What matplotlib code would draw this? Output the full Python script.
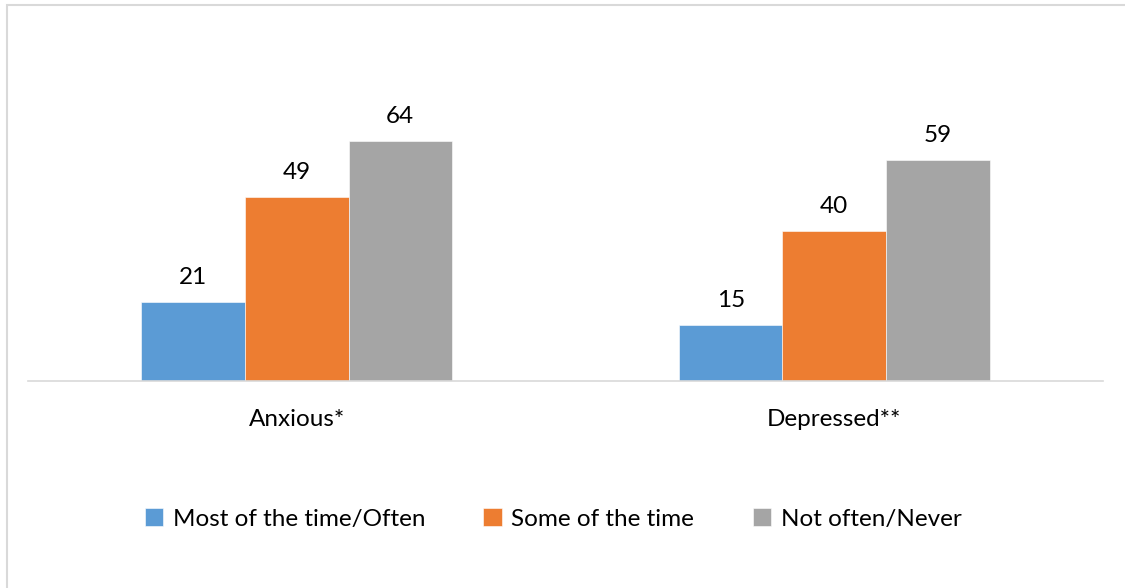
import matplotlib
matplotlib.use("Agg")
import matplotlib.pyplot as plt
import numpy as np
from matplotlib.patches import Rectangle

categories = ["Anxious*", "Depressed**"]
series = ["Most of the time/Often", "Some of the time", "Not often/Never"]
often = [21, 15]
sometimes = [49, 40]
never = [64, 59]

colors = ["#5B9BD5", "#ED7D31", "#A5A5A5"]

plt.rcParams["font.family"] = ["Lato", "DejaVu Sans"]

W, H = 1125, 588
fig = plt.figure(figsize=(W / 100, H / 100), dpi=100)
ax = fig.add_axes([28 / W, (H - 381) / H, (1103 - 28) / W, 262.5 / H])

x = np.arange(len(categories))
width = 0.1926
for k, (vals, color, name) in enumerate(zip([often, sometimes, never], colors, series)):
    bars = ax.bar(x + (k - 1) * width, vals, width, color=color, label=name,
                  edgecolor="white", linewidth=0.4)
    ax.bar_label(bars, padding=10, fontsize=17.5, color="#000000")

ax.set_xlim(-0.5, 1.5)
ax.set_ylim(0, 70)
ax.set_xticks(x)
ax.set_xticklabels(categories, fontsize=17.5)
ax.tick_params(axis="x", length=0, pad=20)
ax.set_yticks([])
for side in ["top", "left", "right"]:
    ax.spines[side].set_visible(False)
ax.spines["bottom"].set_color("#d9d9d9")
ax.spines["bottom"].set_linewidth(1.2)

fig.legend(loc="center", bbox_to_anchor=(553 / W, (H - 519) / H), ncol=3,
           frameon=False, fontsize=17.5, handlelength=0.75, handleheight=0.75,
           handletextpad=0.4, columnspacing=2.4)

fig.patches.append(Rectangle((7 / W, -0.1), 1.2, (H - 5) / H + 0.1,
                             transform=fig.transFigure, fill=False,
                             edgecolor="#d9d9d9", linewidth=1.5))

fig.savefig("out.png", dpi=100)
